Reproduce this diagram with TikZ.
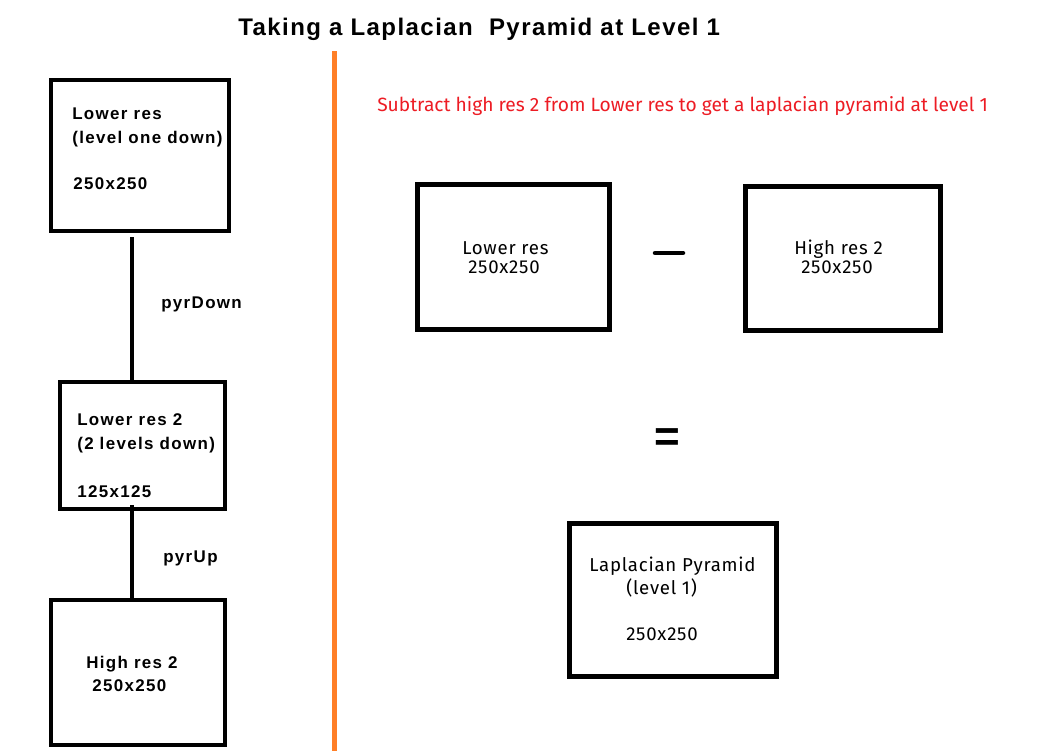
\documentclass[tikz,border=0pt]{standalone}
\usepackage{fontspec}
\newfontfamily\lsb[LetterSpace=8]{Liberation Sans}
\newfontfamily\lsbt[LetterSpace=6]{Liberation Sans}
\newfontfamily\lsbplain{Liberation Sans}
\newfontfamily\fira{Fira Sans}
\newfontfamily\firals[LetterSpace=4]{Fira Sans}
\definecolor{paintorange}{RGB}{255,127,39}
\definecolor{paintred}{RGB}{237,28,36}
\begin{document}
\begin{tikzpicture}[x=0.75pt,y=-0.75pt,
  box/.style 2 args={draw=black, line width=4*0.75pt, minimum width=#1*0.75pt, minimum height=#2*0.75pt, inner sep=0pt, outer sep=0pt},
  rbox/.style 2 args={box={#1}{#2}, line width=5*0.75pt},
  conn/.style={draw=black, line width=4*0.75pt},
  blbl/.style={anchor=base west, inner sep=0pt, font=\lsb\bfseries\fontsize{12.7}{15}\selectfont},
  rlbl/.style={anchor=base west, inner sep=0pt, font=\firals\fontsize{14}{16}\selectfont},
  ttl/.style={anchor=base west, inner sep=0pt, font=\lsbt\bfseries\fontsize{18}{22}\selectfont},
  redlbl/.style={anchor=base west, inner sep=0pt, text=paintred, font=\fira\fontsize{14.4}{17}\selectfont}
]
\useasboundingbox (0,0) rectangle (1059,751);
\fill[white] (0,0) rectangle (1059,751);

% title
\node[ttl] (title) at (238,35) {Taking a Laplacian\ \ Pyramid at Level 1};

% orange divider
\coordinate (o1) at (334.5,51);
\coordinate (o2) at (334.5,751);
\draw[paintorange, line width=5*0.75pt] (o1) -- (o2);

% left column boxes
\node[box={178}{151}] (A) at (140,155.5) {};
\node[box={165}{127}] (B) at (142.5,445.5) {};
\node[box={174}{145}] (C) at (138,672.5) {};

\node[blbl] (a1) at (72,119) {Lower res};
\node[blbl] (a2) at (72,143) {(level one down)};
\node[blbl] (a3) at (73,189) {250x250};

\node[blbl] (b1) at (77,425) {Lower res 2};
\node[blbl] (b2) at (77,449) {(2 levels down)};
\node[blbl] (b3) at (77,497) {125x125};

\node[blbl] (c1) at (86,668) {High res 2};
\node[blbl] (c2) at (92,691) {250x250};

% connectors
\coordinate (L1) at (132,0);
\draw[conn, shorten <=6*0.75pt] (A.south -| L1) -- (B.north -| L1);
\draw[conn, shorten <=-4*0.75pt] (B.south -| L1) -- (C.north -| L1);
\node[blbl] (pd) at (161,308) {pyrDown};
\node[blbl] (pu) at (163,562) {pyrUp};

% right side
\node[redlbl] (sub) at (377,111) {Subtract high res 2 from Lower res to get a laplacian pyramid at level 1};

\node[rbox={192}{145}] (D) at (513,257) {};
\node[rbox={195}{144}] (E) at (842.5,258) {};
\node[rbox={207}{153}] (F) at (673,600) {};

\node[rlbl] (d1) at (462,254) {Lower res};
\node[rlbl] (d2) at (468,273) {250x250};
\node[rlbl] (e1) at (794,254) {High res 2};
\node[rlbl] (e2) at (801,273) {250x250};
\node[rlbl] (f1) at (589,571) {Laplacian Pyramid};
\node[rlbl] (f2) at (626,594) {(level 1)};
\node[rlbl] (f3) at (626,640) {250x250};

% minus sign
\coordinate (m1) at (655,253);
\coordinate (m2) at (683,253);
\draw[line width=4.5*0.75pt, line cap=round] (m1) -- (m2);

% equals sign
\node[anchor=base, inner sep=0pt, font=\lsbplain\bfseries\fontsize{33}{36}\selectfont] (eq) at (667.5,451) {=};
\end{tikzpicture}
\end{document}
